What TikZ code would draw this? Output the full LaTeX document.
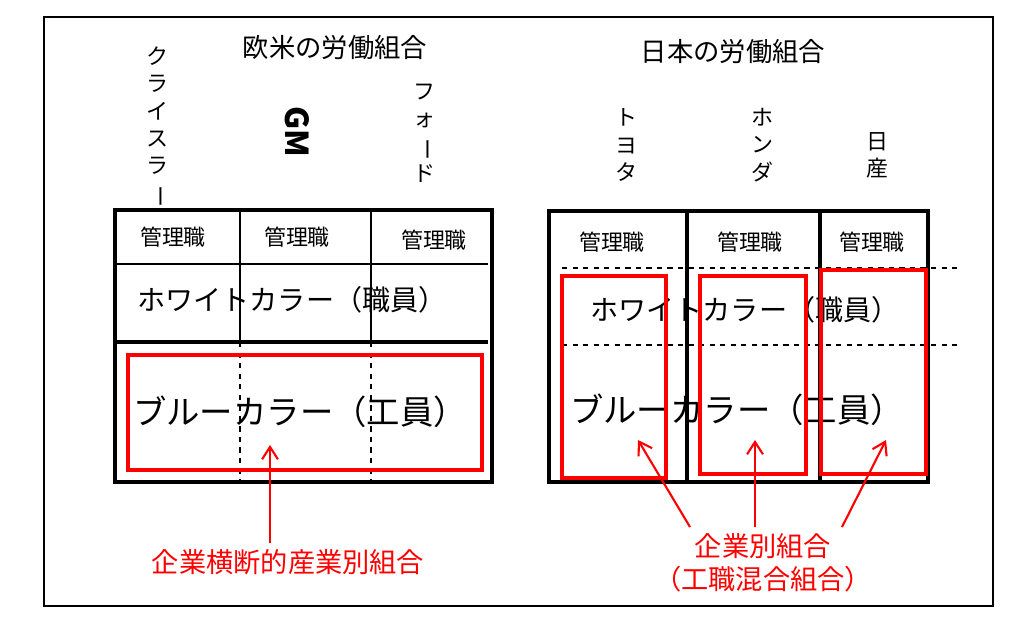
\documentclass[tikz,border=0pt]{standalone}
\usepackage{fontspec}
\setmainfont{Noto Sans CJK JP}
\usetikzlibrary{arrows.meta}
\newcommand{\vb}{\rotatebox[origin=c]{-90}{ー}}
\begin{document}
\begin{tikzpicture}[x=0.02cm,y=-0.02cm,
  heavy/.style={line width=2.2pt},
  mid/.style={line width=1.5pt},
  fine/.style={line width=0.7pt},
  red box/.style={draw=red,line width=2pt},
  red arrow/.style={draw=red,line width=1.2pt,-{Straight Barb[length=7pt,width=9pt]}},
  small/.style={font=\fontsize{12.5}{14}\selectfont},
  big/.style={font=\fontsize{19}{21}\selectfont},
  wctext/.style={font=\fontsize{16}{18}\selectfont},
  title/.style={font=\fontsize{15}{17}\selectfont},
  vert/.style={font=\fontsize{12.5}{15.5}\selectfont,align=center,inner sep=0pt},
  lbl/.style={font=\fontsize{15.5}{19}\selectfont,text=red,align=center}]
\fill[white] (0,0) rectangle (1020,633);
\draw[fine] (44,17) rectangle (993,606);
% Left
\node[title] (t1) at (335,48) {欧米の労働組合};
\node[vert] (c1) at (157,127) {ク\\ラ\\イ\\ス\\ラ\\\vb};
\node[inner sep=0pt,rotate=-90,font=\bfseries\fontsize{18}{20}\selectfont] (c2) at (297,132) {GM};
\node[vert] (c3) at (424,133) {フ\\ォ\\\vb\\ド};
\draw[heavy] (115,210) rectangle (492,482);
\draw[mid] (115,264) -- (488,264);
\draw[heavy] (115,342) -- (488,342);
\draw[fine] (240,212) -- (240,342);
\draw[fine] (371,212) -- (371,342);
\draw[fine,dashed] (240,342) -- (240,482);
\draw[fine,dashed] (371,342) -- (371,482);
\node[small] (m1) at (173,237) {管理職};
\node[small] (m2) at (297,237) {管理職};
\node[small] (m3) at (434,240) {管理職};
\node[wctext] (w1) at (292,300) {ホワイトカラー（職員）};
\node[big] (b1) at (300,412) {ブルーカラー（工員）};
\draw[red box] (128,355) rectangle (482,470);
\node[lbl] (l1) at (288,562) {企業横断的産業別組合};
\coordinate (a1) at (270,445);
\draw[red arrow] (l1.north -| a1) -- (a1);
% Right
\node[title] (t2) at (733,52) {日本の労働組合};
\node[vert] (j1) at (626,145) {ト\\ヨ\\タ};
\node[vert] (j2) at (762,145) {ホ\\ン\\ダ};
\node[vert] (j3) at (877,155) {日\\産};
\draw[heavy] (549,211) rectangle (928,482);
\draw[heavy] (687,211) -- (687,482);
\draw[heavy] (820,211) -- (820,482);
\draw[fine,dashed] (562,268) -- (962,268);
\draw[fine,dashed] (562,345) -- (962,345);
\node[small] (n1) at (612,242) {管理職};
\node[small] (n2) at (750,242) {管理職};
\node[small] (n3) at (872,242) {管理職};
\node[wctext] (w2) at (745,310) {ホワイトカラー（職員）};
\node[big] (b2) at (737,410) {ブルーカラー（工員）};
\draw[red box] (562,276) rectangle (666,478);
\draw[red box] (700,276) rectangle (806,474);
\draw[red box] (821,270) rectangle (926,474);
\node[lbl] (l2) at (763,563) {企業別組合\\（工職混合組合）};
\coordinate (p1) at (690,527);
\coordinate (p2) at (755,527);
\coordinate (p3) at (842,527);
\draw[red arrow] (p1) -- (638,440);
\draw[red arrow] (p2) -- (755,440);
\draw[red arrow] (p3) -- (886,440);
\end{tikzpicture}
\end{document}
